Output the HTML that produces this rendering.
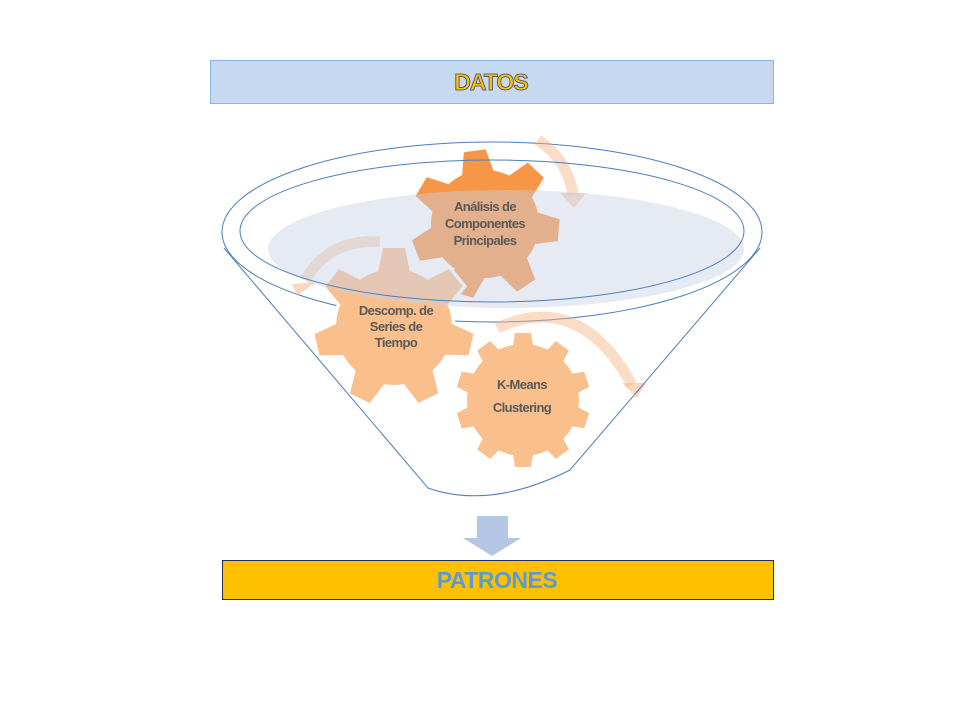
<!DOCTYPE html>
<html><head><meta charset="utf-8"><style>
html,body{margin:0;padding:0;background:#fff}
svg{display:block}
text{font-family:"Liberation Sans",sans-serif;font-weight:bold}
</style></head><body>
<svg width="960" height="720" viewBox="0 0 960 720" xmlns="http://www.w3.org/2000/svg">
<defs>
<path id="t1" d="M-17,-46 L-11,-74 L11,-74 L17,-46 Z"/>
<path id="t2" d="M-17,-50 L-11,-79 L11,-79 L17,-50 Z"/>
<path id="t3" d="M-11,-48 L-8,-67 L8,-67 L11,-48 Z"/>
<g id="g1"><circle r="54"/><use href="#t1" transform="rotate(-8)"/><use href="#t1" transform="rotate(43.4)"/><use href="#t1" transform="rotate(94.8)"/><use href="#t1" transform="rotate(146.2)"/><use href="#t1" transform="rotate(197.6)"/><use href="#t1" transform="rotate(249)"/><use href="#t1" transform="rotate(300.4)"/></g>
<g id="g2"><circle r="58"/><use href="#t2" transform="rotate(0)"/><use href="#t2" transform="rotate(51.4)"/><use href="#t2" transform="rotate(102.8)"/><use href="#t2" transform="rotate(154.2)"/><use href="#t2" transform="rotate(205.6)"/><use href="#t2" transform="rotate(257)"/><use href="#t2" transform="rotate(308.4)"/></g>
<g id="g3"><circle r="56"/><use href="#t3" transform="rotate(0)"/><use href="#t3" transform="rotate(36)"/><use href="#t3" transform="rotate(72)"/><use href="#t3" transform="rotate(108)"/><use href="#t3" transform="rotate(144)"/><use href="#t3" transform="rotate(180)"/><use href="#t3" transform="rotate(216)"/><use href="#t3" transform="rotate(252)"/><use href="#t3" transform="rotate(288)"/><use href="#t3" transform="rotate(324)"/></g>
</defs>

<rect x="210.5" y="60.5" width="563" height="43" fill="#c6d9f1" stroke="#8eb4e3"/>
<text x="491" y="90" font-size="23" text-anchor="middle" fill="#ffc000" stroke="#3b4a66" stroke-width="0.8" letter-spacing="-1">DATOS</text>

<ellipse cx="492" cy="232" rx="270" ry="90" fill="none" stroke="#4a7ebb" stroke-width="1"/>

<g fill="none" stroke="#f4b183" stroke-opacity="0.45" stroke-width="11">
<path d="M538,140 Q568,160 573,195"/>
<path d="M380,242 Q330,238 305,280"/>
<path d="M497,328 Q580,290 632,385"/>
</g>
<g fill="#f4b183" fill-opacity="0.5">
<polygon points="560,193 586,193 574,208"/>
<polygon points="292,284 316,282 297,296"/>
<polygon points="622,383 646,383 637,398"/>
</g>

<g transform="translate(485,224)"><use href="#g1" fill="#fff" stroke="#fff" stroke-width="7"/><use href="#g1" fill="#f79646"/></g>
<g transform="translate(394,327)"><use href="#g2" fill="#fff" stroke="#fff" stroke-width="7"/><use href="#g2" fill="#f9c08e"/></g>
<g transform="translate(523,400)"><use href="#g3" fill="#fff" stroke="#fff" stroke-width="7"/><use href="#g3" fill="#f9c08e"/></g>

<ellipse cx="506" cy="249" rx="238" ry="59" fill="#c8d0e2" fill-opacity="0.45"/>
<ellipse cx="492" cy="231" rx="252" ry="71" fill="none" stroke="#4a7ebb" stroke-width="1"/>
<path d="M224,248 L428,488 Q490,510 570,470 L760,248" fill="none" stroke="#4a7ebb" stroke-width="1"/>

<g font-size="13" fill="#595959" text-anchor="middle" letter-spacing="-0.6">
<text x="485" y="211">Análisis de</text>
<text x="485" y="228">Componentes</text>
<text x="485" y="245">Principales</text>
<text x="396" y="315">Descomp. de</text>
<text x="396" y="331">Series de</text>
<text x="396" y="347">Tiempo</text>
<text x="522" y="389">K-Means</text>
<text x="522" y="412">Clustering</text>
</g>

<polygon points="477,516 508,516 508,538 521,538 492,556 463,538 477,538" fill="#b4c7e7"/>

<rect x="222.5" y="560.5" width="551" height="39" fill="#ffc000" stroke="#1f2d5a"/>
<text x="497" y="588" font-size="23" text-anchor="middle" fill="#5b9bd5" letter-spacing="-0.5">PATRONES</text>
</svg>
</body></html>
